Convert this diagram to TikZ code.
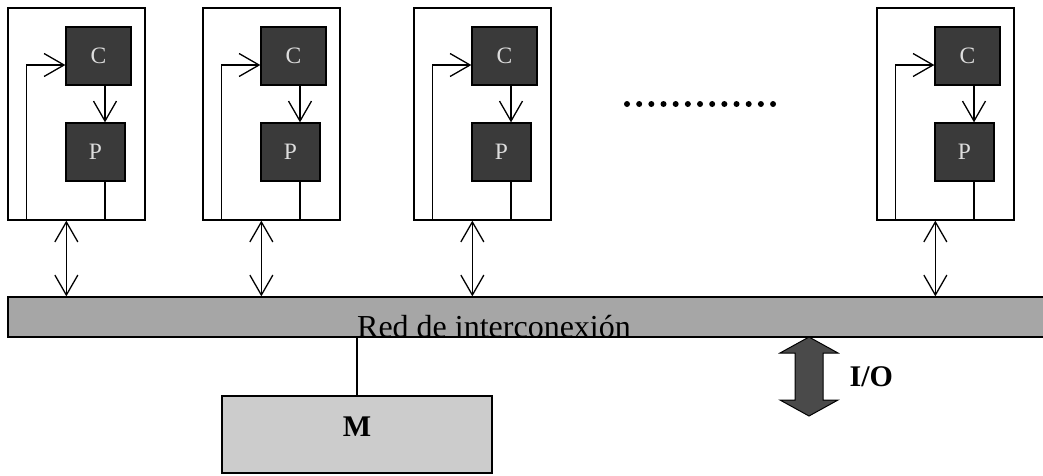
\documentclass[tikz,border=0pt]{standalone}
\usepackage{fontspec}
\setmainfont{Liberation Serif}
\usetikzlibrary{arrows.meta}
\definecolor{cpfill}{HTML}{3A3A3A}
\definecolor{busfill}{HTML}{A6A6A6}
\definecolor{memfill}{HTML}{CCCCCC}
\definecolor{iofill}{HTML}{4A4A4A}
\definecolor{cptext}{HTML}{DDDDDD}
\tikzset{
  modbox/.style={draw=black, fill=white, minimum width=137pt, minimum height=212pt, inner sep=0pt},
  cbox/.style={draw=black, fill=cpfill, text=cptext, font=\fontsize{23.5}{25}\selectfont, minimum width=65pt, minimum height=58pt, inner sep=0pt},
  pbox/.style={draw=black, fill=cpfill, text=cptext, font=\fontsize{23.5}{25}\selectfont, minimum width=59pt, minimum height=58pt, inner sep=0pt},
  busbox/.style={draw=black, fill=busfill, minimum width=1040pt, minimum height=40pt, inner sep=0pt},
  membox/.style={draw=black, fill=memfill, minimum width=270pt, minimum height=77pt, inner sep=0pt},
  arr/.style={-{Straight Barb[length=20pt,width=23pt,line width=1.3pt]}},
  biarr/.style={{Straight Barb[length=20pt,width=23pt,line width=1.3pt]}-{Straight Barb[length=20pt,width=23pt,line width=1.3pt]}},
  dot/.style={circle, fill=black, inner sep=0pt, minimum size=6pt}
}
\begin{document}
\begin{tikzpicture}[x=1pt,y=-1pt,line width=1.3pt]
\useasboundingbox (0,0) rectangle (1043,475);
\fill[white] (0,0) rectangle (1043,475);
\node[busbox] (bus) at (528,317) {};
\node[font=\fontsize{32}{34}\selectfont, anchor=base, inner sep=0pt] (buslabel) at (494,337) {Red de interconexión};
\foreach \i/\x in {1/8,2/203,3/414,4/877} {
  \node[modbox] (m\i) at (\x+68.5,114) {};
  \node[cbox] (c\i) at (\x+90.5,56) {C};
  \node[pbox] (p\i) at (\x+87.5,152) {P};
  \draw[arr] ([xshift=19pt]m\i.south west) |- ([yshift=-9pt]c\i.west);
  \draw[arr] ([xshift=6.5pt]c\i.south) -- ([xshift=9.5pt]p\i.north);
  \draw ([xshift=9.5pt]p\i.south) -- ([xshift=9.5pt]p\i.south |- m\i.south);
  \draw[biarr] ([xshift=59pt]m\i.south west) -- ([xshift=59pt]m\i.south west |- bus.north);
}
\foreach \k in {0,...,12} {
  \node[dot] (d\k) at (627+\k*12.17,104) {};
}
\node[membox] (mem) at (357,434.5) {};
\node[font=\fontsize{30}{32}\selectfont\bfseries, inner sep=0pt] (memlabel) at (357,427) {M};
\draw (mem.north) -- (mem.north |- bus.south);
\coordinate (iotop) at (809,337);
\coordinate (iobot) at (809,416);
\fill[iofill, draw=black, line width=1pt, line join=miter]
  (iotop) -- (838,353) -- (823,353) -- (823,400) -- (838,400) -- (iobot)
  -- (780,400) -- (795,400) -- (795,353) -- (780,353) -- cycle;
\node[font=\fontsize{30}{32}\selectfont\bfseries, anchor=west, inner sep=0pt] (iolabel) at (849,377) {I/O};
\end{tikzpicture}
\end{document}
